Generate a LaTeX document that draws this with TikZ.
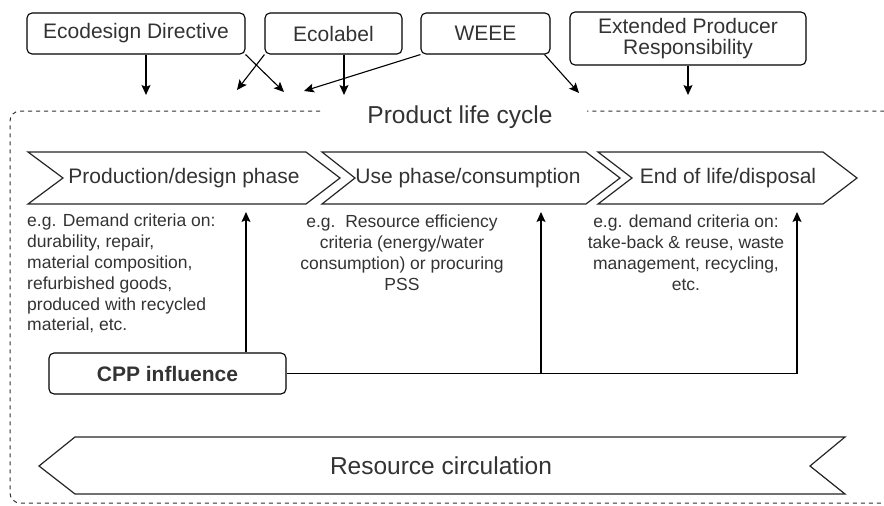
\documentclass[tikz,border=0pt]{standalone}
\usepackage{fontspec}
\setmainfont{Liberation Sans}
\usetikzlibrary{arrows.meta,calc}
\definecolor{ink}{HTML}{333333}
\begin{document}
\begin{tikzpicture}[x=1pt,y=-1pt,
  every node/.style={text=ink},
  policy/.style={draw=black, line width=1.1pt, rounded corners=5pt, align=center,
    font=\fontsize{21}{25}\selectfont, inner sep=0pt},
  phase/.style={draw=black!85, line width=1.2pt, fill=white},
  phaselabel/.style={font=\fontsize{21}{25}\selectfont, inner sep=0pt},
  note/.style={font=\fontsize{17.5}{20.8}\selectfont, inner sep=0pt},
  arr/.style={draw=black, line width=1.1pt, -{Stealth[length=10pt,width=9pt,inset=2pt]}},
  link/.style={draw=black, line width=1.1pt}
]
\useasboundingbox (0,0) rectangle (884,506);
\clip (0,0) rectangle (884,506);

% policy instruments along the top
\node[policy, minimum width=218pt, minimum height=41pt] (eco)  at (136,33.5) {Ecodesign Directive};
\node[policy, minimum width=137pt, minimum height=41pt] (ecol) at (333.5,33.5) {Ecolabel};
\node[policy, minimum width=129pt, minimum height=41pt] (weee) at (485.5,33.5) {WEEE};
\node[policy, minimum width=236pt, minimum height=53pt] (epr)  at (688,38.5) {Extended Producer\\[-4pt]Responsibility};

% free ends of the policy arrows
\coordinate (t1) at (146,95);
\coordinate (t2) at (284,92);
\coordinate (t3) at (237,90);
\coordinate (t4) at (344,95);
\coordinate (t5) at (304,91);
\coordinate (t6) at (579,93);
\coordinate (t7) at (688,95);

\draw[arr] (t1 |- eco.south) -- (t1);
\draw[arr] (eco.south east) -- (t2);
\draw[arr] (ecol.south west) -- (t3);
\draw[arr] (t4 |- ecol.south) -- (t4);
\draw[arr] (weee.south west) -- (t5);
\draw[arr] ([xshift=-6pt]weee.south east) -- (t6);
\draw[arr] (t7 |- epr.south) -- (t7);

% dashed frame of the product life cycle
\draw[black!80, line width=1pt, dash pattern=on 4pt off 4pt, rounded corners=10pt]
  (320,111) -- (10,111) -- (10,503) -- (893,503) -- (893,111) -- (587,111);
\node[font=\fontsize{24.5}{28}\selectfont, inner sep=0pt] (plc) at (460,117) {Product life cycle};

% life-cycle phases
\draw[phase] (28,152) -- (306,152) -- (340,178) -- (306,204) -- (28,204) -- (63,178) -- cycle;
\draw[phase] (322,152) -- (586,152) -- (620,178) -- (586,204) -- (322,204) -- (355,178) -- cycle;
\draw[phase] (598,152) -- (823,152) -- (857,178) -- (823,204) -- (598,204) -- (632,178) -- cycle;
\node[phaselabel] (prod) at (184,178) {Production/design phase};
\node[phaselabel] (use)  at (468,178) {Use phase/consumption};
\node[phaselabel] (eol)  at (728,178) {End of life/disposal};

% examples of demand criteria
\node[note, anchor=north west, align=left] (nprod) at (27,214)
  {e.g. Demand criteria on:\\durability, repair,\\material composition,\\refurbished goods,\\produced with recycled\\material, etc.};
\node[note, anchor=north, align=center] (nuse) at (402,215)
  {e.g.\ \ Resource efficiency\\criteria (energy/water\\consumption) or procuring\\PSS};
\node[note, anchor=north, align=center] (neol) at (686,215)
  {e.g. demand criteria on:\\take-back \& reuse, waste\\management, recycling,\\etc.};

% CPP influence on the phases
\node[policy, minimum width=237pt, minimum height=41pt, font=\bfseries\fontsize{21}{25}\selectfont] (cpp) at (167.5,373.5) {CPP influence};
\coordinate (a1) at (246,212);
\coordinate (a2) at (541,212);
\coordinate (a3) at (797,212);
\draw[arr] (cpp.north -| a1) -- (a1);
\draw[arr] (cpp.east) -| (a3);
\draw[arr] (a2 |- cpp.east) -- (a2);

% resource circulation band
\draw[phase] (75,437) -- (845,437) -- (810,466) -- (845,494) -- (75,494) -- (39,466) -- cycle;
\node[font=\fontsize{24.5}{28}\selectfont, inner sep=0pt] (rc) at (441,466) {Resource circulation};
\end{tikzpicture}
\end{document}
